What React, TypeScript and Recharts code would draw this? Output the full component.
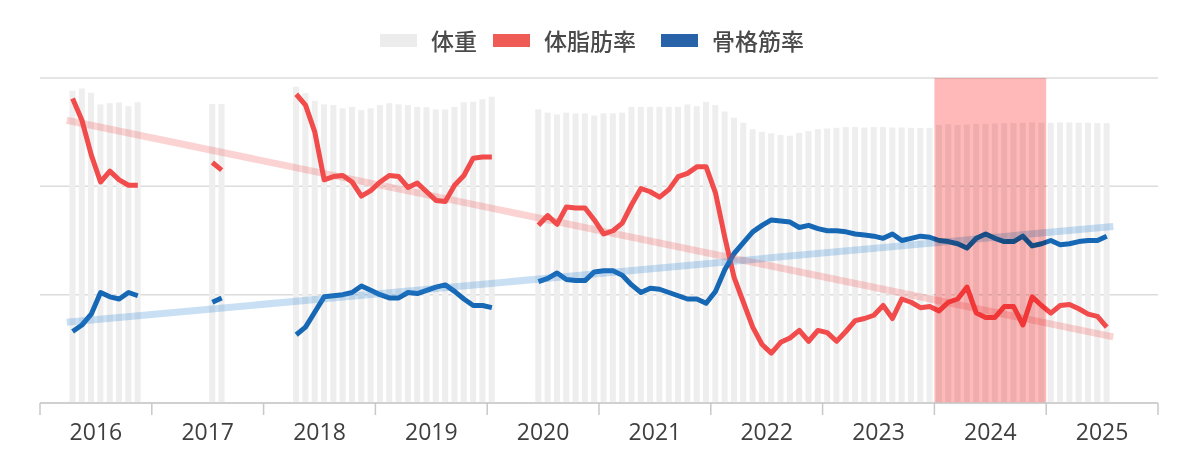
import React from 'react';
import { ComposedChart, Bar, Line, XAxis, YAxis, CartesianGrid, ReferenceArea } from 'recharts';

// Year labels (each year = 12 monthly slots on the x axis)
const years = ['2016', '2017', '2018', '2019', '2020', '2021', '2022', '2023', '2024', '2025'];
const highlightYear = '2024';

// 体重 (kg), monthly, one row per year
const weight: (number | null)[] = [
  null, null, null, 86.5, 87.1, 85.9, 82.7, 83.0, 83.2, 82.2, 83.3, null,
  null, null, null, null, null, null, 82.8, 82.8, null, null, null, null,
  null, null, null, 87.6, 85.8, 83.7, 82.7, 82.5, 81.6, 82.0, 81.1, 81.6,
  82.5, 83.0, 82.7, 82.5, 82.0, 81.9, 81.3, 81.3, 82.0, 83.3, 83.4, 84.1,
  84.8, null, null, null, null, 81.3, 80.4, 79.9, 80.4, 80.2, 80.2, 79.6,
  80.2, 80.2, 80.4, 82.0, 82.0, 82.0, 82.0, 82.0, 82.0, 82.7, 82.2, 83.4,
  82.5, 80.7, 79.0, 77.6, 75.8, 75.1, 74.7, 74.2, 74.0, 74.8, 75.3, 75.8,
  76.0, 76.2, 76.4, 76.4, 76.3, 76.4, 76.4, 76.3, 76.3, 76.2, 76.1, 76.2,
  77.0, 77.2, 77.0, 77.1, 77.3, 77.3, 77.4, 77.5, 77.5, 77.6, 77.7, 77.6,
  77.6, 77.7, 77.7, 77.6, 77.6, 77.5, 77.5, null, null, null, null, null,
];

// 体脂肪率 (%)
const bodyFat: (number | null)[] = [
  null, null, null, 38.1, 36.1, 32.9, 30.4, 31.4, 30.6, 30.1, 30.1, null,
  null, null, null, null, null, null, 32.2, 31.5, null, null, null, null,
  null, null, null, 38.5, 37.5, 35.0, 30.6, 30.9, 31.0, 30.4, 29.1, 29.6,
  30.4, 31.0, 30.9, 29.9, 30.3, 29.5, 28.7, 28.6, 30.1, 31.0, 32.6, 32.7,
  32.7, null, null, null, null, 26.4, 27.3, 26.5, 28.1, 28.0, 28.0, 26.9,
  25.6, 25.9, 26.6, 28.3, 29.8, 29.5, 29.0, 29.7, 30.9, 31.2, 31.8, 31.8,
  29.4, 25.3, 21.6, 19.3, 17.0, 15.4, 14.6, 15.6, 16.0, 16.7, 15.7, 16.7,
  16.5, 15.7, 16.6, 17.6, 17.8, 18.1, 19.0, 17.8, 19.6, 19.3, 18.8, 18.9,
  18.5, 19.3, 19.6, 20.7, 18.3, 17.9, 17.9, 18.9, 18.9, 17.2, 19.8, 19.0,
  18.3, 19.0, 19.1, 18.7, 18.2, 18.0, 17.0, null, null, null, null, null,
];

// 骨格筋率 (%)
const muscle: (number | null)[] = [
  null, null, null, 16.6, 17.2, 18.2, 20.2, 19.8, 19.6, 20.2, 19.9, null,
  null, null, null, null, null, null, 19.3, 19.7, null, null, null, null,
  null, null, null, 16.3, 17.0, 18.4, 19.8, 19.9, 20.0, 20.2, 20.8, 20.4,
  20.0, 19.7, 19.7, 20.2, 20.1, 20.4, 20.7, 20.9, 20.3, 19.6, 19.0, 19.0,
  18.8, null, null, null, null, 21.2, 21.5, 22.0, 21.4, 21.3, 21.3, 22.1,
  22.2, 22.2, 21.8, 20.9, 20.2, 20.6, 20.5, 20.2, 19.9, 19.6, 19.6, 19.2,
  20.3, 22.3, 23.8, 24.8, 25.8, 26.4, 26.9, 26.8, 26.7, 26.2, 26.4, 26.1,
  25.9, 25.9, 25.8, 25.6, 25.5, 25.4, 25.2, 25.6, 25.0, 25.2, 25.4, 25.3,
  25.0, 24.9, 24.7, 24.3, 25.2, 25.6, 25.2, 24.9, 24.9, 25.4, 24.5, 24.7,
  25.0, 24.6, 24.7, 24.9, 25.0, 25.0, 25.4, null, null, null, null, null,
];

// Linear trend end points (x in month slots)
const trendX = [2.87, 115.2];
const bodyFatTrend = [36.1, 16.1];
const muscleTrend = [17.45, 26.3];

const pctTicks = [10, 20, 30, 40];
const weightDomain = [0, 90];

const data = weight.map((w, i) => ({ x: i + 0.5, weight: w, fat: bodyFat[i], muscle: muscle[i] }));
const fatTrendData = trendX.map((x, i) => ({ x, v: bodyFatTrend[i] }));
const muscleTrendData = trendX.map((x, i) => ({ x, v: muscleTrend[i] }));
const yearTicks = years.map((_, i) => i * 12).concat([years.length * 12]);

const W = 1200;
const H = 471;
const M = { top: 78, right: 42, bottom: 28, left: 40 };
const HALF_YEAR = (W - M.left - M.right) / years.length / 2;
const BAR_W = 6;

const RED = '#f14b4b';
const BLUE = '#1768b4';
const BAR = '#eeeeee';
const TXT = '#3f3f3f';

const YearTick = (props: any) => {
  const { x, y, payload } = props;
  const idx = Math.round(payload.value / 12);
  if (idx >= years.length) return <g />;
  return (
    <text x={x + HALF_YEAR} y={y} dy={23} textAnchor="middle" fill={TXT}
      style={{ fontFamily: '"Open Sans", "Noto Sans", sans-serif', fontSize: 23, fontWeight: 500 }}>
      {years[idx]}
    </text>
  );
};

const WeightBar = (props: any) => {
  const { x, y, width, height, fill } = props;
  if (x == null || height == null || !(height > 0)) return <g />;
  const cx = x + width / 2;
  return <rect x={cx - BAR_W / 2} y={y} width={BAR_W} height={height} fill={fill} />;
};

const legendItems = [
  { name: '体重', color: '#ececec', left: 380 },
  { name: '体脂肪率', color: '#ee5c55', left: 493 },
  { name: '骨格筋率', color: '#2863aa', left: 661 },
];

export default function App() {
  const hi = years.indexOf(highlightYear) * 12;
  return (
    <div style={{ position: 'absolute', left: 0, top: 0, width: W, height: H, background: '#fff' }}>
      {legendItems.map((it) => (
        <div key={it.name} style={{ position: 'absolute', left: it.left, top: 24, height: 32, display: 'flex', alignItems: 'center' }}>
          <div style={{ width: 37, height: 13, background: it.color, marginRight: 14 }} />
          <span style={{ fontFamily: '"Noto Sans CJK JP", sans-serif', fontSize: 23, fontWeight: 500, color: '#4a4a4a', lineHeight: '32px' }}>{it.name}</span>
        </div>
      ))}
      <ComposedChart width={W} height={H} data={data} margin={M}>
        <CartesianGrid yAxisId="pct" vertical={false} stroke="#dcdcdc" strokeWidth={1.5} />
        <XAxis dataKey="x" type="number" domain={[0, years.length * 12]} ticks={yearTicks} interval={0}
          height={40} tickSize={12} axisLine={{ stroke: '#c8c8c8', strokeWidth: 1.5 }}
          tickLine={{ stroke: '#c8c8c8', strokeWidth: 1.5 }} tick={<YearTick />} allowDataOverflow />
        <YAxis yAxisId="pct" domain={[pctTicks[0], pctTicks[pctTicks.length - 1]]} ticks={pctTicks} hide />
        <YAxis yAxisId="w" orientation="right" domain={weightDomain} hide />
        <Bar yAxisId="w" dataKey="weight" fill={BAR} barSize={BAR_W} shape={<WeightBar />} isAnimationActive={false} />
        <Line yAxisId="pct" dataKey="fat" stroke={RED} strokeWidth={5} dot={false} activeDot={false}
          strokeLinejoin="round" isAnimationActive={false} connectNulls={false} />
        <Line yAxisId="pct" dataKey="muscle" stroke={BLUE} strokeWidth={5} dot={false} activeDot={false}
          strokeLinejoin="round" isAnimationActive={false} connectNulls={false} />
        <Line yAxisId="pct" data={fatTrendData} dataKey="v" stroke="rgba(240,80,80,0.25)" strokeWidth={7}
          dot={false} activeDot={false} isAnimationActive={false} />
        <Line yAxisId="pct" data={muscleTrendData} dataKey="v" stroke="rgba(40,130,210,0.25)" strokeWidth={7}
          dot={false} activeDot={false} isAnimationActive={false} />
        <ReferenceArea yAxisId="pct" x1={hi} x2={hi + 12} fill="#ffb9b9" fillOpacity={1} stroke="none"
          style={{ mixBlendMode: 'multiply' }}
          {...({ zIndex: 450 } as any)} />
      </ComposedChart>
    </div>
  );
}
